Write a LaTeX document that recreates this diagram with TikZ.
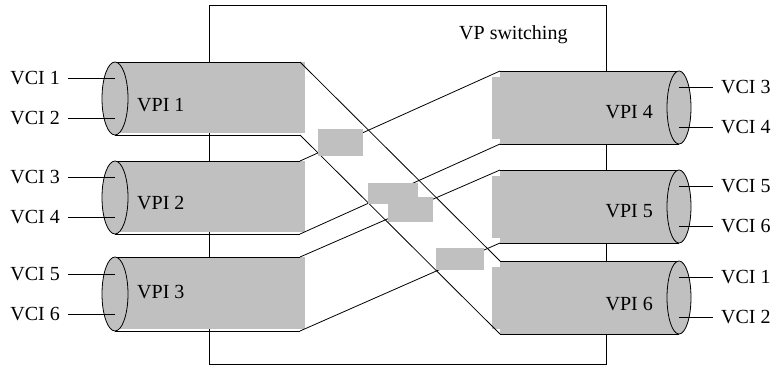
\documentclass[tikz,border=0pt]{standalone}
\usepackage{fontspec}
\setmainfont{Liberation Serif}
\definecolor{tubegray}{RGB}{192,192,192}

\begin{document}
\begin{tikzpicture}[x=1pt, y=-1pt, font=\fontsize{20}{24}\selectfont,
    wire/.style={line width=0.8pt},
    rim/.style={draw, fill=tubegray, line width=0.8pt},
    vci/.style={inner xsep=8pt, inner ysep=0pt},
    lbl/.style={inner sep=0pt}]
  \useasboundingbox (0,0) rectangle (778,369);
  % switch box
  \draw[wire] (209,5) rectangle (606,364);
  \node[lbl, anchor=west] (title) at (459,35) {VP switching};
  % incoming paths
  \foreach \n/\t/\b/\va/\vb/\ly in {1/62/135/1/2/105, 2/161/234/3/4/203, 3/257/331/5/6/292} {
    \pgfmathsetmacro\m{(\t+\b)/2}
    \pgfmathsetmacro\r{(\b-\t)/2}
    \fill[tubegray] (115,\t) rectangle (305,\b-2);
    \draw[wire] (115,\t) -- (300,\t) coordinate (L\n-tr);
    \draw[wire] (115,\b) -- (300,\b) coordinate (L\n-br);
    \draw[rim] (115,\m) ellipse [x radius=13, y radius=\r];
    \node[lbl, anchor=west] (vpi\n) at (137,\ly) {VPI \n};
    \node[vci, anchor=east] (L\n-a) at (68,\m-20) {VCI \va};
    \node[vci, anchor=east] (L\n-b) at (68,\m+20) {VCI \vb};
    \coordinate (L\n-ai) at (115,\m-20);
    \coordinate (L\n-bi) at (115,\m+20);
    \draw[wire] (L\n-a.east) -- (L\n-ai);
    \draw[wire] (L\n-b.east) -- (L\n-bi);
  }
  % outgoing paths
  \foreach \n/\t/\b/\va/\vb/\ly in {4/71/144/3/4/112, 5/170/243/5/6/211, 6/261/334/1/2/304} {
    \pgfmathsetmacro\m{(\t+\b)/2}
    \pgfmathsetmacro\r{(\b-\t)/2}
    \fill[tubegray] (500,\t) rectangle (679,\b);
    \fill[tubegray] (492,\t+6) rectangle (500,\b-5);
    \draw[wire] (500,\t) coordinate (R\n-tl) -- (679,\t);
    \draw[wire] (500,\b) coordinate (R\n-bl) -- (679,\b);
    \draw[rim] (679,\m) ellipse [x radius=12, y radius=\r];
    \node[lbl, anchor=east] (vpi\n) at (653,\ly) {VPI \n};
    \node[vci, anchor=west] (R\n-a) at (713,\m-20) {VCI \va};
    \node[vci, anchor=west] (R\n-b) at (713,\m+20) {VCI \vb};
    \coordinate (R\n-ai) at (679,\m-20);
    \coordinate (R\n-bi) at (679,\m+20);
    \draw[wire] (R\n-ai) -- (R\n-a.west);
    \draw[wire] (R\n-bi) -- (R\n-b.west);
  }
  % cross connections
  \draw[wire] (L1-tr) -- (R6-tl);
  \draw[wire] (L1-br) -- (R6-bl);
  \draw[wire] (L2-tr) -- (R4-tl);
  \draw[wire] (L2-br) -- (R4-bl);
  \draw[wire] (L3-tr) -- (R5-tl);
  \draw[wire] (L3-br) -- (R5-bl);
  % gray patches
  \fill[tubegray] (318,129) rectangle (363,156);
  \fill[tubegray] (368,183) rectangle (418,204);
  \fill[tubegray] (388,197) rectangle (433,222);
  \fill[tubegray] (436,248) rectangle (484,270);
\end{tikzpicture}
\end{document}
